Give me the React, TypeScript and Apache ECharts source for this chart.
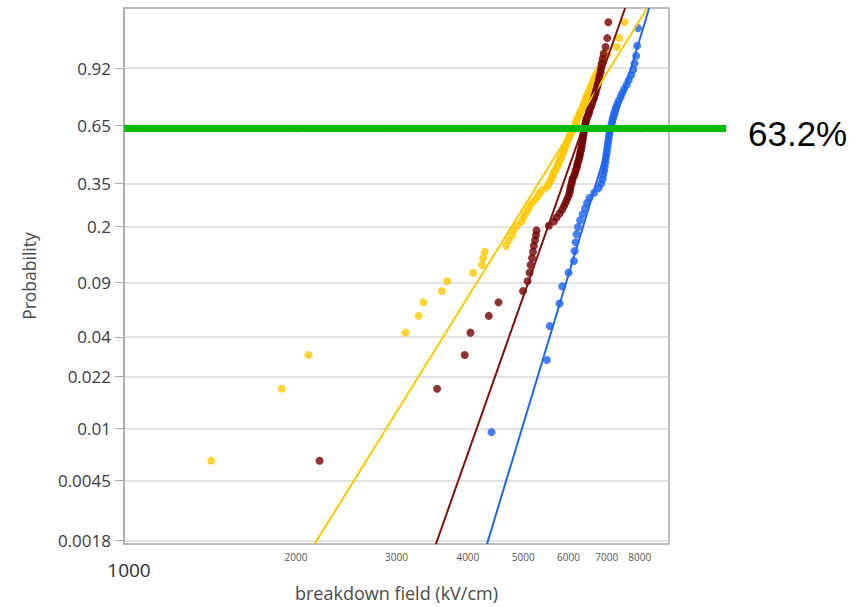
import React, { useEffect, useRef } from 'react';
import * as echarts from 'echarts';

// Breakdown fields (kV/cm) of each sample set, sorted ascending
const fieldSet1 = [
  1422, 1890, 2104, 3110, 3281, 3344, 3603, 3680, 4087, 4234,
  4255, 4281, 4666, 4719, 4783, 4814, 4880, 4966, 5007, 5047,
  5098, 5140, 5185, 5255, 5308, 5340, 5405, 5509, 5538, 5572,
  5605, 5628, 5651, 5686, 5720, 5743, 5766, 5789, 5813, 5836,
  5860, 5884, 5907, 5919, 5943, 5967, 5991, 6004, 6028, 6052,
  6089, 6114, 6139, 6164, 6188, 6201, 6226, 6251, 6277, 6302,
  6327, 6353, 6379, 6404, 6430, 6443, 6469, 6508, 6535, 6561,
  6588, 6628, 6655, 6695, 6749, 6804, 6859, 6929, 7028, 7287,
  7361, 7526,
];
const fieldSet2 = [
  2200, 3534, 3950, 4042, 4352, 4526, 4996, 5088, 5129, 5150,
  5181, 5202, 5219, 5244, 5265, 5276, 5545, 5658, 5720, 5789,
  5848, 5895, 5931, 5967, 6004, 6028, 6040, 6052, 6077, 6089,
  6102, 6139, 6164, 6176, 6201, 6214, 6226, 6251, 6264, 6277,
  6289, 6302, 6315, 6327, 6330, 6340, 6353, 6358, 6366, 6379,
  6383, 6391, 6404, 6417, 6430, 6443, 6456, 6482, 6508, 6522,
  6535, 6561, 6588, 6601, 6628, 6655, 6668, 6695, 6709, 6736,
  6749, 6777, 6790, 6804, 6832, 6846, 6859, 6887, 6915, 6971,
  7019, 7047,
];
const fieldSet3 = [
  4400, 5500, 5565, 5789, 5852, 6004, 6135, 6152, 6176, 6201,
  6234, 6289, 6353, 6417, 6469, 6535, 6655, 6777, 6846, 6887,
  6901, 6929, 6943, 6957, 6971, 6985, 6999, 7014, 7028, 7042,
  7056, 7070, 7084, 7113, 7128, 7156, 7171, 7200, 7229, 7258,
  7302, 7346, 7406, 7451, 7511, 7588, 7649, 7727, 7790, 7836,
  7884, 7915, 7941,
];

// Weibull fit of each set: scale (kV/cm) and shape
const fitScale = [6100, 6353, 7173];
const fitShape = [6.13, 10.78, 12.58];

const setNames = ['Sample 1', 'Sample 2', 'Sample 3'];
const dotColors = ['#FFC800', '#700000', '#1560EE'];
const lineColors = ['#F7CB00', '#7E1010', '#2266EE'];

// Axis ticks and ranges
const probTicks = [0.92, 0.65, 0.35, 0.2, 0.09, 0.04, 0.022, 0.01, 0.0045, 0.0018];
const probTickLabels = ['0.92', '0.65', '0.35', '0.2', '0.09', '0.04', '0.022', '0.01', '0.0045', '0.0018'];
const probRange = [0.0017, 0.99826];
const fieldTicks = [1000, 2000, 3000, 4000, 5000, 6000, 7000, 8000];
const fieldRange = [1000, 9000];

// Characteristic life marker
const characteristicP = 0.632;
const characteristicLabel = '63.2%';

// Weibull probability scale: ln(-ln(1 - p))
const wz = (p: number) => Math.log(-Math.log(1 - p));
const lg = (v: number) => Math.log10(v);

// Hazen plotting position of the i-th (0-based) of n ordered failures
const rankProb = (i: number, n: number) => (i + 0.5) / n;

const W = 864;
const H = 607;

export default function App() {
  const ref = useRef<HTMLDivElement>(null);

  useEffect(() => {
    const chart = echarts.init(ref.current!, null, { renderer: 'svg', width: W, height: H });
    const sets = [fieldSet1, fieldSet2, fieldSet3];
    const zMin = wz(probRange[0]);
    const zMax = wz(probRange[1]);
    const zTicks = probTicks.map(wz);

    const scatterSeries = sets.map((arr, k) => ({
      name: setNames[k],
      type: 'scatter',
      symbol: 'circle',
      symbolSize: 8,
      itemStyle: { color: dotColors[k] },
      data: arr.map((f, i) => [lg(f), wz(rankProb(i, arr.length))]),
      z: 2,
    }));

    const fitSeries = fitScale.map((eta, k) => ({
      name: setNames[k] + ' fit',
      type: 'line',
      showSymbol: false,
      silent: true,
      clip: true,
      lineStyle: { color: lineColors[k], width: 2 },
      data: [zMin, zMax].map((z) => [lg(eta) + z / (fitShape[k] * Math.LN10), z]),
      z: 3,
    }));

    const labelFont = "'Open Sans', 'Noto Sans', sans-serif";

    chart.setOption({
      animation: false,
      backgroundColor: '#ffffff',
      grid: {
        left: 124,
        top: 8,
        right: 195,
        bottom: 55,
        show: true,
        borderColor: '#a8a8a8',
        borderWidth: 1.5,
        backgroundColor: 'transparent',
      },
      xAxis: {
        type: 'value',
        min: lg(fieldRange[0]),
        max: lg(fieldRange[1]),
        name: 'breakdown field (kV/cm)',
        nameLocation: 'middle',
        nameGap: 38,
        nameTextStyle: { fontSize: 18, color: '#4a4a4a', fontFamily: labelFont },
        axisLine: { show: true, lineStyle: { color: '#a8a8a8', width: 1.5 } },
        axisTick: {
          show: true,
          length: 4,
          customValues: fieldTicks.map(lg),
          lineStyle: { color: '#a8a8a8' },
        },
        splitLine: { show: false },
        axisLabel: {
          customValues: fieldTicks.map(lg),
          margin: 8,
          fontSize: 10,
          color: '#555555',
          fontFamily: labelFont,
          formatter: (v: number) => {
            const f = Math.round(Math.pow(10, v));
            return f === fieldTicks[0] ? '{big|' + f + '}' : String(f);
          },
          rich: {
            big: { fontSize: 19, color: '#2e2e38', fontFamily: labelFont, padding: [8, 0, 0, 10] },
          },
        },
      },
      yAxis: {
        type: 'value',
        min: zMin,
        max: zMax,
        name: 'Probability',
        nameLocation: 'middle',
        nameGap: 86,
        nameTextStyle: { fontSize: 17.5, color: '#4a4a4a', fontFamily: labelFont },
        axisLine: { show: true, lineStyle: { color: '#a8a8a8', width: 1.5 } },
        axisTick: {
          show: true,
          length: 9,
          customValues: zTicks,
          lineStyle: { color: '#a8a8a8' },
        },
        splitLine: { show: true, lineStyle: { color: '#d9d9d9', width: 1.5 } },
        axisLabel: {
          customValues: zTicks,
          margin: 13,
          fontSize: 17,
          color: '#3a3a44',
          fontFamily: labelFont,
          formatter: (v: number) => {
            let best = 0;
            zTicks.forEach((t, i) => {
              if (Math.abs(t - v) < Math.abs(zTicks[best] - v)) best = i;
            });
            return probTickLabels[best];
          },
        },
      },
      series: [...scatterSeries, ...fitSeries],
    });

    // 63.2 % marker line, reaching out past the plot to its label
    const yMark = chart.convertToPixel({ gridIndex: 0 }, [lg(fieldRange[0]), wz(characteristicP)])[1];
    chart.setOption({
      graphic: [
        {
          type: 'line',
          shape: { x1: 124, y1: yMark, x2: 726, y2: yMark },
          style: { stroke: '#00BA00', lineWidth: 7 },
          z: 10,
        },
        {
          type: 'text',
          x: 748,
          y: yMark + 5,
          style: {
            text: characteristicLabel,
            fontSize: 35,
            fontFamily: "'Liberation Sans', Arial, sans-serif",
            fill: '#000000',
            verticalAlign: 'middle',
            align: 'left',
          },
          z: 10,
        },
      ],
    });

    return () => chart.dispose();
  }, []);

  return (
    <div
      ref={ref}
      style={{ position: 'fixed', left: 0, top: 0, width: W, height: H, background: '#ffffff' }}
    />
  );
}
